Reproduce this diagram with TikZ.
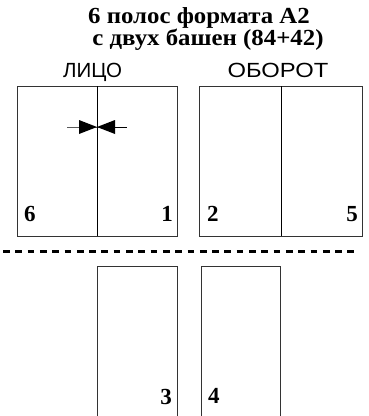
\documentclass[tikz,border=0pt]{standalone}
\usepackage{fontspec}
\setmainfont{Liberation Serif}
\setsansfont{Liberation Sans}
\begin{document}
\begin{tikzpicture}[x=1pt,y=-1pt,
  page/.style={draw=black!80, line width=0.9pt, inner sep=0pt, outer sep=0pt, anchor=north west},
  num/.style={font=\fontsize{23}{23}\selectfont\bfseries, inner sep=0pt},
  head/.style={font=\fontsize{23}{23}\selectfont\bfseries, inner sep=0pt, anchor=base},
  side/.style={font=\sffamily\fontsize{20.5}{20}\selectfont, inner sep=0pt, anchor=base},
  fold/.style={draw=black, line width=0.9pt},
  cut/.style={line width=3pt, dash pattern=on 6.7pt off 5.6pt}]
\useasboundingbox (0,0) rectangle (369,416);
\fill[white] (0,0) rectangle (369,416);
% titles
\node[head] (t1) at (199,23) {\scalebox{1.08}[1]{6 полос формата А2}};
\node[head] (t2) at (208,45) {\scalebox{1.08}[1]{с двух башен (84+42)}};
\node[side] (l) at (92.5,77) {ЛИЦО};
\node[side] (o) at (278,77) {\scalebox{1.16}[1]{ОБОРОТ}};
% top boxes
\node[page, minimum width=160pt, minimum height=150pt] (A) at (17,86) {};
\node[page, minimum width=163pt, minimum height=150pt] (B) at (199,86) {};
\coordinate (Am1) at (97,86); \coordinate (Am2) at (97,236);
\coordinate (Bm1) at (281,86); \coordinate (Bm2) at (281,236);
\draw[fold] (Am1) -- (Am2);
\draw[fold] (Bm1) -- (Bm2);
% arrows
\coordinate (al) at (67,127); \coordinate (ar) at (127,127); \coordinate (ac) at (97,127);
\draw[line width=0.8pt] (al) -- (ac) -- (ar);
\fill (79,120) -- (ac) -- (79,134) -- cycle;
\fill (115,120) -- (ac) -- (115,134) -- cycle;
% numbers
\node[num, anchor=base west] (n6) at (24,221) {6};
\node[num, anchor=base east] (n1) at (173,221) {1};
\node[num, anchor=base west] (n2) at (207,221) {2};
\node[num, anchor=base east] (n5) at (358,221) {5};
% cut line
\coordinate (c1) at (3,251); \coordinate (c2) at (358,251);
\draw[cut] (c1) -- (c2);
% bottom boxes
\node[page, minimum width=80pt, minimum height=150pt] (C) at (97,266) {};
\node[page, minimum width=79pt, minimum height=150pt] (D) at (201,266) {};
\node[num, anchor=base east] (n3) at (172,404) {3};
\node[num, anchor=base west] (n4) at (208,403) {4};
\end{tikzpicture}
\end{document}
